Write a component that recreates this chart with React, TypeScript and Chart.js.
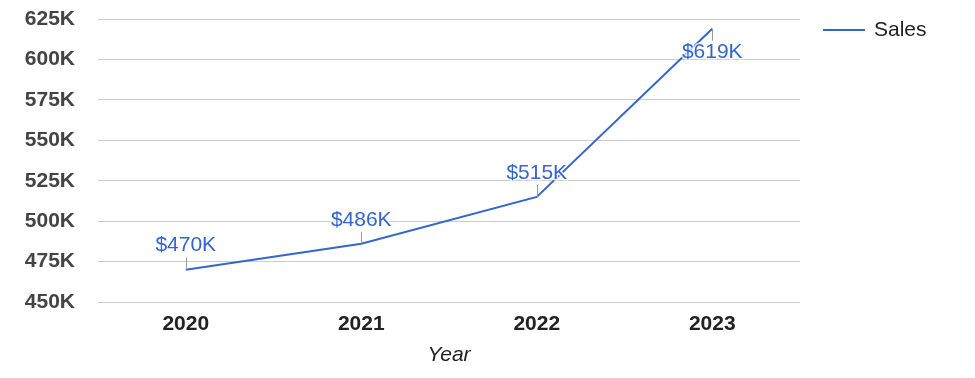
import React, { useEffect, useRef } from "react";
import { Chart, registerables } from "chart.js";

Chart.register(...registerables);

const years = ["2020", "2021", "2022", "2023"];
const sales = [470000, 486000, 515000, 619000];
const pointLabels = ["$470K", "$486K", "$515K", "$619K"];
const seriesName = "Sales";
const yMin = 450000;
const yMax = 625000;
const yStep = 25000;

const BLUE = "#3366cc";
const FONT = "Arial, 'Liberation Sans', sans-serif";

const annotationPlugin = {
  id: "annotations",
  afterDatasetsDraw(chart: any) {
    const ctx = chart.ctx;
    const meta = chart.getDatasetMeta(0);
    const area = chart.chartArea;
    ctx.save();
    meta.data.forEach((pt: any, i: number) => {
      const x = pt.x;
      const y = pt.y;
      const below = y - 34 < area.top;
      const dir = below ? 1 : -1;
      ctx.strokeStyle = "#999999";
      ctx.lineWidth = 1;
      ctx.beginPath();
      ctx.moveTo(Math.round(x) + 0.5, y);
      ctx.lineTo(Math.round(x) + 0.5, y + dir * 12);
      ctx.stroke();
      ctx.font = `21px ${FONT}`;
      ctx.textAlign = "center";
      ctx.textBaseline = "middle";
      const ty = y + dir * 24;
      ctx.lineJoin = "round";
      ctx.strokeStyle = "rgba(255,255,255,0.8)";
      ctx.lineWidth = 3;
      ctx.strokeText(pointLabels[i], x, ty);
      ctx.fillStyle = BLUE;
      ctx.fillText(pointLabels[i], x, ty);
    });
    // legend
    ctx.strokeStyle = BLUE;
    ctx.lineWidth = 2;
    ctx.beginPath();
    ctx.moveTo(823, 30);
    ctx.lineTo(865, 30);
    ctx.stroke();
    ctx.font = `21px ${FONT}`;
    ctx.textAlign = "left";
    ctx.textBaseline = "middle";
    ctx.fillStyle = "#222222";
    ctx.fillText(seriesName, 874, 30);
    ctx.restore();
  },
};

export default function App() {
  const ref = useRef<HTMLCanvasElement>(null);
  useEffect(() => {
    if (!ref.current) return;
    const chart = new Chart(ref.current, {
      type: "line",
      data: {
        labels: years,
        datasets: [
          {
            label: seriesName,
            data: sales,
            borderColor: BLUE,
            backgroundColor: BLUE,
            borderWidth: 2,
            pointRadius: 0,
            tension: 0,
          },
        ],
      },
      options: {
        animation: false,
        responsive: false,
        maintainAspectRatio: false,
        layout: { padding: { top: 19, right: 175, left: 0, bottom: 0 } },
        plugins: { legend: { display: false }, tooltip: { enabled: false } },
        scales: {
          x: {
            offset: true,
            grid: { display: false, drawTicks: false },
            border: { display: false },
            ticks: {
              color: "#222222",
              font: { family: FONT, size: 21, weight: "bold" },
              padding: 10,
            },
            title: {
              display: true,
              text: "Year",
              color: "#222222",
              font: { family: FONT, size: 21, style: "italic" },
              padding: { top: 6, bottom: 10 },
            },
            afterFit(scale: any) {
              scale.height = 76;
              scale.paddingLeft = 0;
              scale.paddingRight = 0;
            },
          },
          y: {
            min: yMin,
            max: yMax,
            grid: { color: "#cccccc", drawTicks: false, lineWidth: 1 },
            border: { display: false },
            ticks: {
              stepSize: yStep,
              color: "#444444",
              font: { family: FONT, size: 21, weight: "bold" },
              padding: 23,
              callback: (v: any) => `${Math.round(Number(v) / 1000)}K`,
            },
            afterFit(scale: any) {
              scale.width = 98;
              scale.paddingTop = 0;
              scale.paddingBottom = 0;
            },
          },
        },
      },
      plugins: [annotationPlugin],
    });
    return () => chart.destroy();
  }, []);
  return (
    <div style={{ position: "absolute", left: 0, top: 0, width: 975, height: 378, background: "#fff" }}>
      <canvas ref={ref} width={975} height={378} style={{ width: 975, height: 378, display: "block" }} />
    </div>
  );
}
